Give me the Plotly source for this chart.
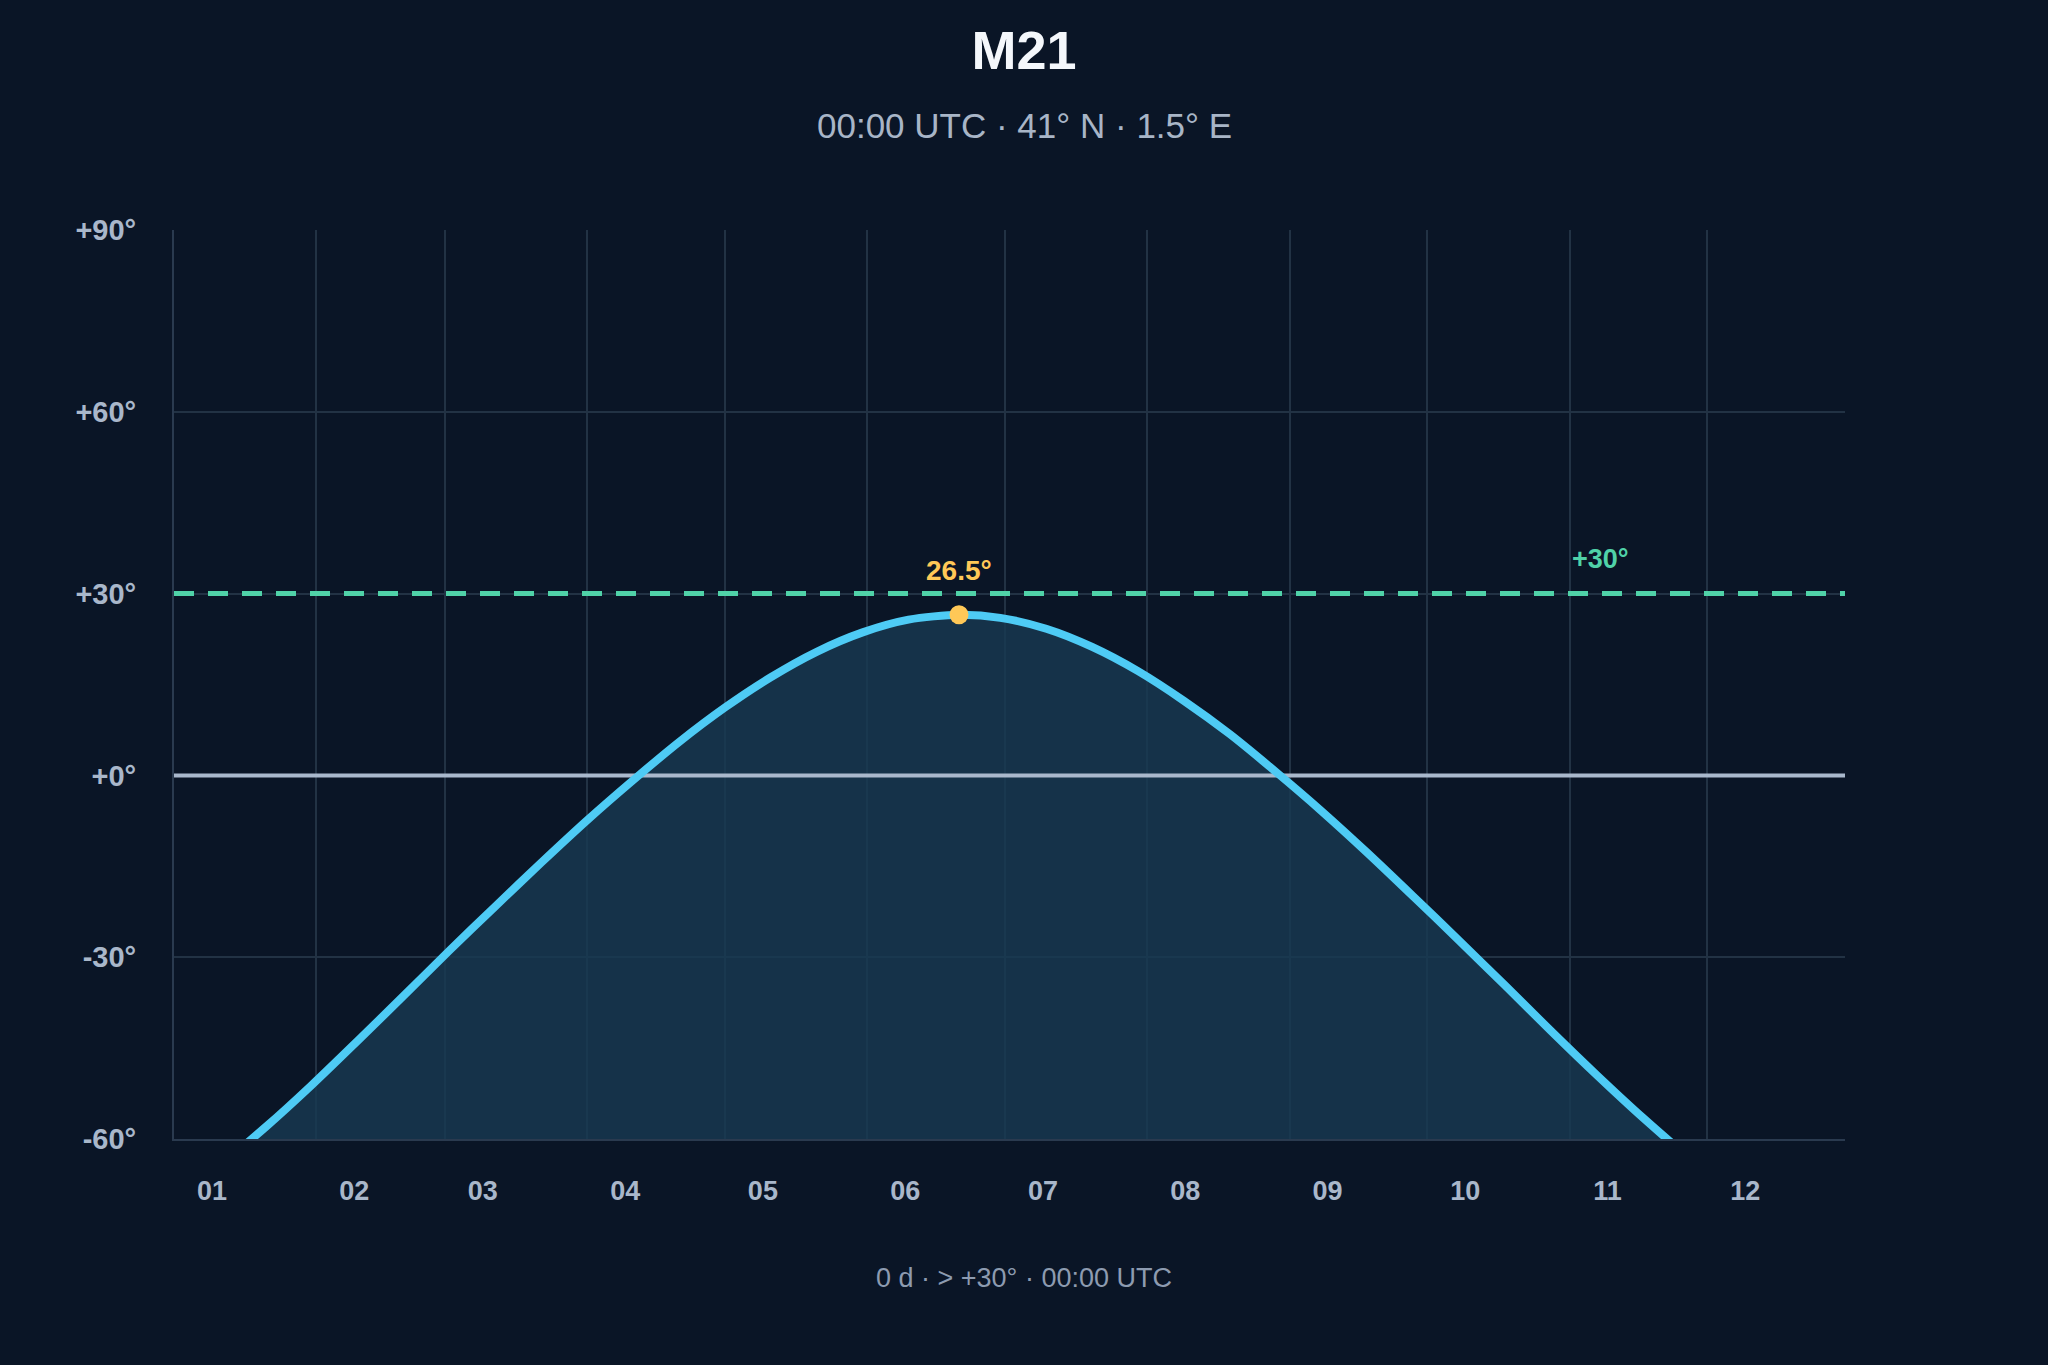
import plotly.graph_objects as go

# M21 altitude at 00:00 UTC (41° N, 1.5° E), every 10 days
DATES = [
    "2025-01-01", "2025-01-11", "2025-01-21", "2025-01-31", "2025-02-10",
    "2025-02-20", "2025-03-02", "2025-03-12", "2025-03-22", "2025-04-01",
    "2025-04-11", "2025-04-21", "2025-05-01", "2025-05-11", "2025-05-21",
    "2025-05-31", "2025-06-10", "2025-06-21", "2025-06-30", "2025-07-10",
    "2025-07-20", "2025-07-30", "2025-08-09", "2025-08-19", "2025-08-29",
    "2025-09-08", "2025-09-18", "2025-09-28", "2025-10-08", "2025-10-18",
    "2025-10-28", "2025-11-07", "2025-11-17", "2025-11-27", "2025-12-07",
    "2025-12-17", "2025-12-27", "2025-12-31",
]
ALTITUDE = [
    -69.2, -64.3, -58.0, -51.1, -43.8,
    -36.4, -28.9, -21.6, -14.4, -7.4,
    -0.8, 5.5, 11.2, 16.2, 20.4,
    23.6, 25.7, 26.5, 26.0, 24.2,
    21.2, 17.2, 12.3, 6.8, 0.6,
    -5.9, -12.8, -20.0, -27.3, -34.7,
    -42.2, -49.5, -56.5, -63.0, -68.3,
    -71.2, -70.8, -69.6,
]

Y_TICKS = [-60, -30, 0, 30, 60, 90]
Y_TICK_TEXT = ["-60°", "-30°", "+0°", "+30°", "+60°", "+90°"]
Y_MIN, Y_MAX = -60, 90
HORIZON = 0
THRESHOLD = 30
THRESHOLD_LABEL_DATE = "2025-11-01"

TITLE = "M21"
SUBTITLE = "00:00 UTC · 41° N · 1.5° E"
FOOTER = "0 d · > +30° · 00:00 UTC"

FONT = "Liberation Sans, Arial, sans-serif"
BG = "#0a1526"
GRID = "#223244"
AXIS = "#2a3a4f"
TICK = "#a9b7ca"
CURVE = "#4ecbf5"
FILL = "rgba(24,58,83,0.8)"
GOLD = "#ffc857"
GREEN = "#50d2a8"
ZERO = "#a9b8cc"

peak_i = max(range(len(ALTITUDE)), key=lambda i: ALTITUDE[i])
spline = dict(shape="spline", smoothing=0.8)

fig = go.Figure()

# floor at the bottom of the axis so the fill runs down to it
fig.add_trace(go.Scatter(
    x=DATES, y=[Y_MIN] * len(DATES), mode="lines",
    line=dict(width=0), hoverinfo="skip", showlegend=False,
))
fig.add_trace(go.Scatter(
    x=DATES, y=ALTITUDE, mode="lines", line=dict(width=0, **spline),
    fill="tonexty", fillcolor=FILL, hoverinfo="skip", showlegend=False,
))
# horizon line sits over the fill but under the curve
fig.add_trace(go.Scatter(
    x=[DATES[0], DATES[-1]], y=[HORIZON, HORIZON], mode="lines",
    line=dict(color=ZERO, width=4), hoverinfo="skip", showlegend=False,
))
fig.add_trace(go.Scatter(
    x=DATES, y=ALTITUDE, mode="lines",
    line=dict(color=CURVE, width=8, **spline), showlegend=False,
))
fig.add_trace(go.Scatter(
    x=[DATES[peak_i]], y=[ALTITUDE[peak_i]], mode="markers",
    marker=dict(size=19, color=GOLD), showlegend=False,
))

fig.add_shape(
    type="line", xref="paper", x0=0, x1=1, yref="y",
    y0=THRESHOLD, y1=THRESHOLD, layer="above",
    line=dict(color=GREEN, width=5, dash="20px,14px"),
)

fig.add_annotation(
    x=DATES[peak_i], y=ALTITUDE[peak_i], text="%.1f°" % ALTITUDE[peak_i],
    showarrow=False, yanchor="middle", yshift=44,
    font=dict(family=FONT, size=28, color=GOLD, weight="bold"),
)
fig.add_annotation(
    x=THRESHOLD_LABEL_DATE, y=THRESHOLD, text="+%d°" % THRESHOLD,
    showarrow=False, xanchor="left", yanchor="middle", yshift=35,
    font=dict(family=FONT, size=27, color=GREEN, weight="bold"),
)
fig.add_annotation(
    xref="paper", yref="paper", x=0.5087, y=1.1155, text=SUBTITLE,
    showarrow=False, yanchor="middle",
    font=dict(family=FONT, size=35, color="#a8b5c7"),
)
fig.add_annotation(
    xref="paper", yref="paper", x=0.5087, y=-0.153, text=FOOTER,
    showarrow=False, yanchor="middle",
    font=dict(family=FONT, size=27, color="#8d9bb0"),
)

fig.update_layout(
    width=2048, height=1365,
    margin=dict(l=174, r=203, t=230, b=226),
    paper_bgcolor=BG, plot_bgcolor=BG,
    title=dict(
        text="<b>%s</b>" % TITLE, x=0.5, xref="container", xanchor="center",
        y=1 - 50 / 1365, yref="container", yanchor="middle",
        font=dict(family=FONT, size=54, color="#f4f7fb"),
    ),
    xaxis=dict(
        type="date", range=[DATES[0], DATES[-1]],
        tick0="2025-01-01", dtick="M1", tickformat="%m",
        ticklabelshift=38, ticklabelstandoff=27, ticks="",
        showgrid=True, gridcolor=GRID, gridwidth=1.5,
        showline=True, linecolor=AXIS, linewidth=2, zeroline=False,
        tickfont=dict(family=FONT, size=27, color=TICK, weight="bold"),
    ),
    yaxis=dict(
        range=[Y_MIN, Y_MAX], tickvals=Y_TICKS, ticktext=Y_TICK_TEXT,
        ticks="", ticklabelstandoff=30, zeroline=False,
        showgrid=True, gridcolor=GRID, gridwidth=1.5,
        showline=True, linecolor=AXIS, linewidth=2,
        tickfont=dict(family=FONT, size=29, color=TICK, weight="bold"),
    ),
    showlegend=False,
)

# drop the page margin so the figure sits at the window corner
fig.write_html(
    "out.html",
    config={"displayModeBar": False},
    post_script="document.body.style.margin='0';",
)
